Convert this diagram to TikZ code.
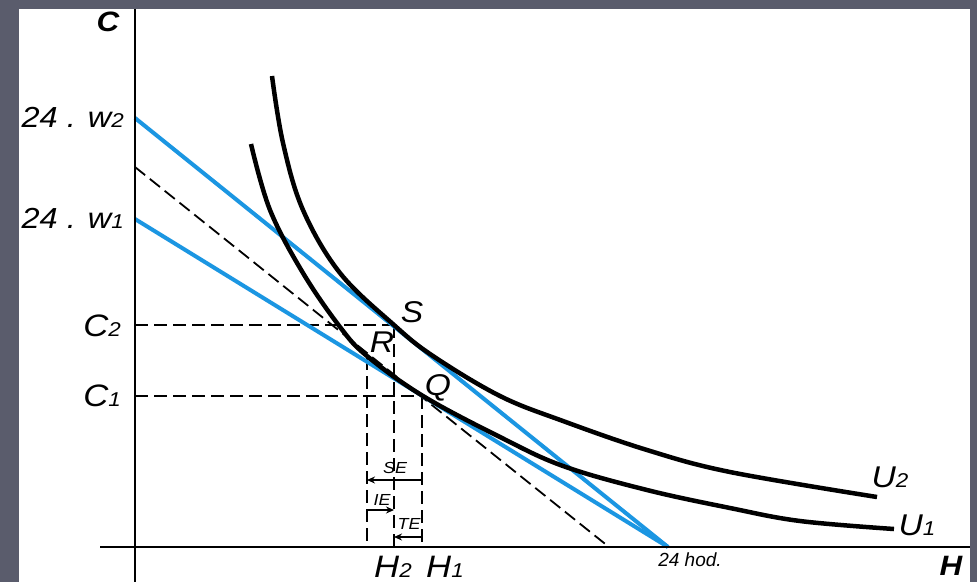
\documentclass[tikz,border=0pt]{standalone}
\usepackage{fontspec}
\setmainfont{Liberation Sans}
\newfontfamily\widesans[FakeStretch=1.12]{Liberation Sans}
\usetikzlibrary{arrows.meta}
\definecolor{slidebg}{RGB}{90,92,108}
\definecolor{budget}{RGB}{27,150,226}
\newcommand\smd[1]{{\fontsize{20}{20}\selectfont #1}}
\tikzset{
  axisline/.style={line width=2pt,black},
  icurve/.style={line width=4.5pt,black,smooth,tension=0.6},
  bline/.style={line width=4pt,budget},
  dline/.style={line width=1.8pt,black,dash pattern=on 13pt off 6pt},
  effarrow/.style={line width=1.8pt,black,-{Stealth[length=8pt,width=7pt]}},
  biglab/.style={font=\widesans\fontsize{31}{31}\selectfont\itshape,inner sep=0pt},
  wlab/.style={font=\widesans\fontsize{29}{29}\selectfont\itshape,inner sep=0pt},
  ptlab/.style={font=\widesans\fontsize{30}{30}\selectfont\itshape,inner sep=0pt},
  axlab/.style={font=\widesans\fontsize{28}{28}\selectfont\bfseries\itshape,inner sep=0pt},
  smalllab/.style={font=\widesans\fontsize{16}{16}\selectfont\itshape,inner sep=0pt},
  hodlab/.style={font=\fontsize{19}{19}\selectfont\itshape,inner sep=0pt}
}
\begin{document}
\begin{tikzpicture}[x=1pt,y=-1pt]
\useasboundingbox (0,0) rectangle (977,582);
\fill[slidebg] (0,0) rectangle (977,582);
\fill[white] (19,9) rectangle (970,582);

% key points
\coordinate (w2) at (135,118);
\coordinate (w1) at (135,219);
\coordinate (dd) at (135,167);
\coordinate (T) at (668,547);
\coordinate (Td) at (609,547);
\coordinate (S) at (394,325);
\coordinate (Q) at (422,396);
\coordinate (R) at (367,357);
\coordinate (C2p) at (135,325);
\coordinate (C1p) at (135,396);
\coordinate (H2p) at (394,547);
\coordinate (H1p) at (422,547);
\coordinate (HRp) at (367,547);
\coordinate (xl) at (100,547);
\coordinate (xr) at (970,547);
\coordinate (yt) at (135,9);
\coordinate (yb) at (135,582);

% dashed guide lines
\draw[dline] (dd) -- (Td);
\draw[dline] (C2p) -- (S);
\draw[dline] (C1p) -- (Q);
\draw[dline] (R) -- (HRp);
\draw[dline] (S) -- (H2p);
\draw[dline] (Q) -- (H1p);

% budget lines
\draw[bline] (w2) -- (T);
\draw[bline] (w1) -- (T);

% indifference curves
\draw[icurve] plot coordinates {(272,76) (283,143) (303,210) (340,273) (394,325) (433,356) (500,396) (563,421) (647,450) (730,472) (877,497)};
\draw[icurve] plot coordinates {(251,144) (270,210) (303,273) (340,327) (367,356) (423,396) (500,437) (563,466) (647,490) (730,508) (800,521) (894,529)};

% axes
\draw[axisline] (xl) -- (xr);
\draw[axisline] (yt) -- (yb);

% effect arrows
\coordinate (se1) at (422,480); \coordinate (se2) at (367,480);
\coordinate (ie1) at (367,510); \coordinate (ie2) at (394,510);
\coordinate (te1) at (422,537); \coordinate (te2) at (394,537);
\draw[effarrow] (se1) -- (se2);
\draw[effarrow] (ie1) -- (ie2);
\draw[effarrow] (te1) -- (te2);
\node[smalllab] (lse) at (395,468) {SE};
\node[smalllab] (lie) at (382,500) {IE};
\node[smalllab] (lte) at (409,524) {TE};

% labels
\node[axlab] (lC) at (108,22) {C};
\node[axlab] (lH) at (951,566) {H};
\node[wlab,anchor=base east] (lw2) at (124,127) {24 . w\smd{2}};
\node[wlab,anchor=base east] (lw1) at (124,228) {24 . w\smd{1}};
\node[biglab,anchor=base east] (lC2) at (121,336) {C\smd{2}};
\node[biglab,anchor=base east] (lC1) at (121,406) {C\smd{1}};
\node[biglab,anchor=base west] (lH2) at (374,577) {H\smd{2}};
\node[biglab,anchor=base west] (lH1) at (426,577) {H\smd{1}};
\node[ptlab] (lS) at (412,312) {S};
\node[ptlab] (lR) at (382,342) {R};
\node[ptlab] (lQ) at (438,388) {Q};
\node[ptlab] (lU2) at (890,477) {U\smd{2}};
\node[ptlab] (lU1) at (917,525) {U\smd{1}};
\node[hodlab] (lhod) at (690,560) {24 hod.};
\end{tikzpicture}
\end{document}
